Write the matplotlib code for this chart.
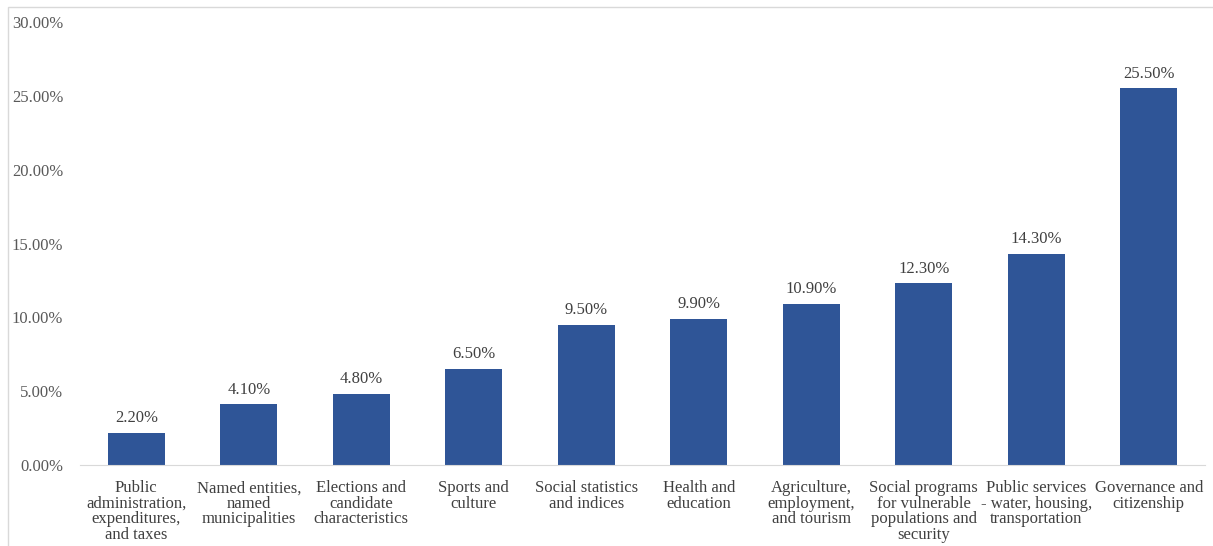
import matplotlib.pyplot as plt
from matplotlib.patches import Rectangle

categories = ["Public\nadministration,\nexpenditures,\nand taxes",
              "Named entities,\nnamed\nmunicipalities",
              "Elections and\ncandidate\ncharacteristics",
              "Sports and\nculture",
              "Social statistics\nand indices",
              "Health and\neducation",
              "Agriculture,\nemployment,\nand tourism",
              "Social programs\nfor vulnerable\npopulations and\nsecurity",
              "Public services\n- water, housing,\ntransportation",
              "Governance and\ncitizenship"]
values = [2.2, 4.1, 4.8, 6.5, 9.5, 9.9, 10.9, 12.3, 14.3, 25.5]

plt.rcParams['font.family'] = ['Liberation Serif', 'DejaVu Serif']

fig = plt.figure(figsize=(12.13, 5.46), dpi=100)
ax = fig.add_axes([80/1213, 81/546, 1125/1213, 443/546])

x = range(len(values))
bars = ax.bar(x, values, width=0.51, color='#2F5597')
for b, v in zip(bars, values):
    ax.text(b.get_x() + b.get_width()/2, v + 0.45, f"{v:.2f}%", ha='center', va='bottom',
            fontsize=12, color='#404040')

ax.set_xlim(-0.5, len(values) - 0.5)
ax.set_ylim(0, 30)
ax.set_yticks([0, 5, 10, 15, 20, 25, 30])
ax.set_yticklabels([f"{t:.2f}%" for t in [0, 5, 10, 15, 20, 25, 30]], fontsize=12, color='#595959')
ax.set_xticks(list(x))
ax.set_xticklabels(categories, fontsize=12, color='#404040', linespacing=0.96, va='top')
ax.tick_params(axis='x', length=0, pad=11)
ax.tick_params(axis='y', length=0, pad=12)
for s in ['top', 'right', 'left']:
    ax.spines[s].set_visible(False)
ax.spines['bottom'].set_color('#D9D9D9')

fig.patches.append(Rectangle((8/1213, -0.01), 1.0, 1 - 7/546 + 0.01, transform=fig.transFigure,
                             fill=False, edgecolor='#D9D9D9', linewidth=1))

fig.savefig('out.png', dpi=100)
